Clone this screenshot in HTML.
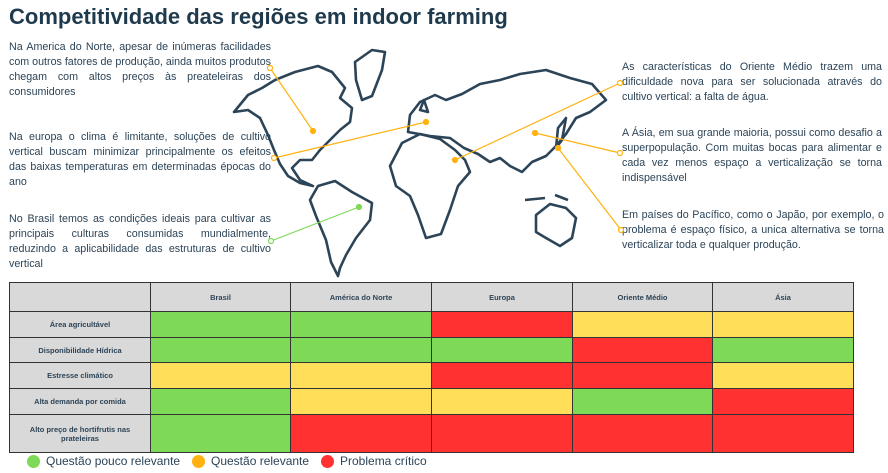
<!DOCTYPE html><html><head><meta charset="utf-8"><style>
body{margin:0;width:888px;height:473px;background:#fff;font-family:"Liberation Sans",sans-serif;color:#2c4457;position:relative;overflow:hidden}
.t{position:absolute;font-size:10.7px;line-height:15px;text-align:justify;text-align-last:left}
h1{position:absolute;left:9px;top:4px;margin:0;font-size:22px;font-weight:bold;color:#1f3a4d}
table{position:absolute;left:9px;top:282px;border-collapse:collapse;width:844px;table-layout:fixed}
td{border:1.5px solid #333;padding:0;font-size:7.5px;font-weight:bold;text-align:center;color:#2c4457}
.g{background:#7ed957}.y{background:#ffde59}.r{background:#ff3131}.h{background:#d9d9d9}
.lg{position:absolute;top:454px;font-size:12px;display:flex;align-items:center;white-space:nowrap}
.lg i{display:inline-block;width:13px;height:13px;border-radius:50%;margin-right:6px}
</style></head><body>
<h1>Competitividade das regiões em indoor farming</h1>
<div class="t" style="left:9px;top:40px;width:262px">Na America do Norte, apesar de inúmeras facilidades com outros fatores de produção, ainda muitos produtos chegam com altos preços às preateleiras dos consumidores</div>
<div class="t" style="left:9px;top:130px;width:262px">Na europa o clima é limitante, soluções de cultivo vertical buscam minimizar principalmente os efeitos das baixas temperaturas em determinadas épocas do ano</div>
<div class="t" style="left:9px;top:212px;width:262px">No Brasil temos as condições ideais para cultivar as principais culturas consumidas mundialmente, reduzindo a aplicabilidade das estruturas de cultivo vertical</div>
<div class="t" style="left:622px;top:60px;width:260px">As características do Oriente Médio trazem uma dificuldade nova para ser solucionada através do cultivo vertical: a falta de água.</div>
<div class="t" style="left:622px;top:126px;width:260px">A Ásia, em sua grande maioria, possui como desafio a superpopulação. Com muitas bocas para alimentar e cada vez menos espaço a verticalização se torna indispensável</div>
<div class="t" style="left:622px;top:208px;width:262px">Em países do Pacífico, como o Japão, por exemplo, o problema é espaço físico, a unica alternativa se torna verticalizar toda e qualquer produção.</div>
<svg style="position:absolute;left:0;top:0" width="888" height="473">
<g fill="none" stroke="#2c4457" stroke-width="2.6" stroke-linejoin="round">
<path d="M234,112 L248,95 L262,88 L275,80 L295,72 L318,66 L332,72 L345,88 L340,98 L352,108 L350,122 L340,130 L330,140 L320,150 L312,160 L300,160 L292,168 L300,180 L313,186 L300,183 L288,176 L280,164 L274,150 L268,135 L260,118 L248,110 Z"/>
<path d="M355,62 L372,50 L385,52 L382,70 L372,96 L362,100 L356,80 Z"/>
<path d="M318,186 L335,181 L352,192 L372,203 L370,220 L356,238 L346,255 L340,268 L338,276 L331,262 L326,240 L316,216 L310,200 Z"/>
<path d="M402,143 L420,134 L440,139 L455,150 L465,160 L470,172 L458,186 L450,210 L441,234 L426,238 L418,215 L410,196 L396,186 L390,166 Z"/>
<path d="M408,132 L410,115 L420,102 L435,95 L446,100 L462,94 L480,84 L500,80 L520,74 L546,70 L570,78 L592,84 L606,100 L590,112 L576,118 L566,134 L556,146 L546,156 L532,162 L522,172 L510,166 L500,158 L490,162 L478,154 L464,148 L450,138 L430,136 Z"/>
<path d="M536,215 L550,204 L566,208 L576,218 L572,238 L560,246 L546,238 L536,232 Z"/>
<path d="M420,110 L424,100 L428,112 Z"/><path d="M558,128 L566,118 L562,140 L556,148 Z"/>
<path d="M525,200 L545,198 M555,195 L568,200"/>
</g>
<g stroke="#ffb20f" stroke-width="1.2" fill="#fff">
<line x1="270" y1="68" x2="313" y2="131"/><circle cx="270" cy="68" r="2.5"/><circle cx="313" cy="131" r="2.5" fill="#ffb20f"/>
<line x1="274" y1="158" x2="426" y2="122"/><circle cx="274" cy="158" r="2.5"/><circle cx="426" cy="122" r="2.5" fill="#ffb20f"/>
<line x1="455" y1="160" x2="620" y2="83"/><circle cx="620" cy="83" r="2.5"/><circle cx="455" cy="160" r="2.5" fill="#ffb20f"/>
<line x1="535" y1="133" x2="620" y2="153"/><circle cx="620" cy="153" r="2.5"/><circle cx="535" cy="133" r="2.5" fill="#ffb20f"/>
<line x1="558" y1="148" x2="621" y2="230"/><circle cx="621" cy="230" r="2.5"/><circle cx="558" cy="148" r="2.5" fill="#ffb20f"/>
</g>
<g stroke="#7ed957" stroke-width="1.2" fill="#fff"><line x1="271" y1="241" x2="359" y2="207"/><circle cx="271" cy="241" r="2.5"/><circle cx="359" cy="207" r="2.5" fill="#7ed957"/></g>
</svg>
<table>
<colgroup><col style="width:141px"><col style="width:140px"><col style="width:141px"><col style="width:141px"><col style="width:140px"><col style="width:141px"></colgroup>
<tr style="height:29px"><td class="h"></td><td class="h">Brasil</td><td class="h">América do Norte</td><td class="h">Europa</td><td class="h">Oriente Médio</td><td class="h">Ásia</td></tr>
<tr style="height:26px"><td class="h">Área agricultável</td><td class="g"></td><td class="g"></td><td class="r"></td><td class="y"></td><td class="y"></td></tr>
<tr style="height:25px"><td class="h">Disponibilidade Hídrica</td><td class="g"></td><td class="g"></td><td class="g"></td><td class="r"></td><td class="g"></td></tr>
<tr style="height:26px"><td class="h">Estresse climático</td><td class="y"></td><td class="y"></td><td class="r"></td><td class="r"></td><td class="y"></td></tr>
<tr style="height:26px"><td class="h">Alta demanda por comida</td><td class="g"></td><td class="y"></td><td class="y"></td><td class="g"></td><td class="r"></td></tr>
<tr style="height:38px"><td class="h">Alto preço de hortifrutis nas<br>prateleiras</td><td class="g"></td><td class="r"></td><td class="r"></td><td class="r"></td><td class="r"></td></tr>
</table>
<div class="lg" style="left:27px"><i style="background:#7ed957"></i>Questão pouco relevante</div>
<div class="lg" style="left:192px"><i style="background:#ffb20f"></i>Questão relevante</div>
<div class="lg" style="left:321px"><i style="background:#ff3131"></i>Problema crítico</div>
</body></html>
